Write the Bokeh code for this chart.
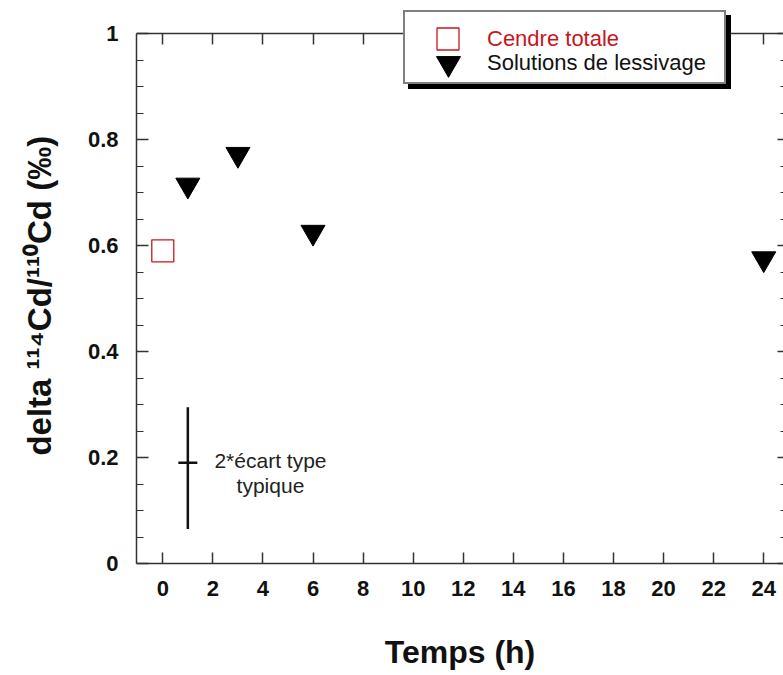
from bokeh.plotting import figure
from bokeh.models import (Range1d, LinearAxis, FixedTicker, CustomJSTickFormatter,
                          Legend, LegendItem)
from bokeh.core.properties import value
from bokeh.embed import file_html
from bokeh.resources import INLINE

# ---------------- data ----------------
ash_time = [0]
ash_delta = [0.59]

leach_time = [1, 3, 6, 24]
leach_delta = [0.714, 0.772, 0.625, 0.575]

err_x = [1]
err_y = [0.19]
err_lo = [0.065]
err_hi = [0.295]

err_text = ["2*écart type", "typique"]
err_text_x = [4.3, 4.3]
err_text_y = [0.194, 0.147]

x_ticks = [0, 2, 4, 6, 8, 10, 12, 14, 16, 18, 20, 22, 24]
y_ticks = [0.0, 0.2, 0.4, 0.6, 0.8, 1.0]
y_tick_labels = ["0", "0.2", "0.4", "0.6", "0.8", "1"]
y_minor_ticks = [0.05, 0.1, 0.15, 0.25, 0.3, 0.35, 0.45, 0.5, 0.55,
                 0.65, 0.7, 0.75, 0.85, 0.9, 0.95]

legend_labels = ["Cendre totale", "Solutions de lessivage"]
x_label = "Temps (h)"
y_label = "delta \u00b9\u00b9\u2074Cd/\u00b9\u00b9\u2070Cd (\u2030)\u00a0\u00a0\u00a0"

FONT = "Liberation Sans"
AXIS_COLOR = "#333333"
RED = "#c8161d"

Y_MIN, Y_MAX = y_ticks[0], y_ticks[-1]
X_MIN, X_MAX = -1.05, 24.79

# ---------------- figure ----------------
# frame spans the full height above the x axis so the legend box (which
# straddles the top axis line) is not clipped; the top axis is pinned at y = 1.
p = figure(width=783, height=675,
           x_range=Range1d(X_MIN, X_MAX), y_range=Range1d(0, 1.0623),
           output_backend="svg", toolbar_location=None,
           x_axis_location=None, y_axis_location=None,
           min_border_left=136, min_border_right=0,
           min_border_top=0, min_border_bottom=112,
           background_fill_color="white", border_fill_color="white",
           outline_line_color=None)
p.grid.visible = False


def style(ax):
    ax.axis_line_color = AXIS_COLOR
    ax.axis_line_width = 1.5
    ax.major_tick_line_color = AXIS_COLOR
    ax.major_tick_line_width = 1.5
    ax.minor_tick_line_color = AXIS_COLOR
    ax.minor_tick_line_width = 1.2
    ax.major_tick_out = 0
    ax.minor_tick_out = 0
    ax.major_label_text_font = FONT
    ax.major_label_text_font_style = "bold"
    ax.major_label_text_font_size = "22px"
    ax.major_label_text_color = "#111111"
    ax.axis_label_text_font = FONT
    ax.axis_label_text_font_style = "bold"
    ax.axis_label_text_color = "#111111"


xb = LinearAxis(ticker=FixedTicker(ticks=x_ticks, minor_ticks=[]), axis_label=x_label)
style(xb)
xb.axis_label_text_font_size = "32px"
xb.major_tick_in = 11
xb.major_label_standoff = 17
xb.axis_label_standoff = 35
p.add_layout(xb, "below")

# top axis: pinned at y = 1 inside the frame, ticks pointing down
xt = LinearAxis(ticker=FixedTicker(ticks=x_ticks, minor_ticks=[]),
                formatter=CustomJSTickFormatter(code="return ''"),
                fixed_location=Y_MAX)
style(xt)
xt.major_tick_in = 11
xt.major_label_standoff = 0
p.add_layout(xt, "above")

yl = LinearAxis(ticker=FixedTicker(ticks=y_ticks, minor_ticks=y_minor_ticks),
                axis_label=y_label, bounds=(Y_MIN, Y_MAX))
style(yl)
yl.axis_label_text_font_size = "33px"
yl.major_tick_in = 12
yl.minor_tick_in = 7
yl.major_label_standoff = 18
yl.axis_label_standoff = 27
yl.major_label_overrides = dict(zip(y_ticks, y_tick_labels))
p.add_layout(yl, "left")

yr = LinearAxis(ticker=FixedTicker(ticks=y_ticks, minor_ticks=y_minor_ticks),
                formatter=CustomJSTickFormatter(code="return ''"),
                bounds=(Y_MIN, Y_MAX))
style(yr)
yr.axis_line_color = None
yr.major_tick_in = 6
yr.minor_tick_in = 3
yr.major_label_standoff = 0
p.add_layout(yr, "right")

# ---------------- glyphs ----------------
ash = p.scatter(ash_time, ash_delta, marker="square", size=22,
                fill_color=None, line_color=RED, line_width=1.3)
leach = p.scatter(leach_time, leach_delta, marker="inverted_triangle", size=24,
                  fill_color="black", line_color="black")

p.segment(x0=err_x, y0=err_lo, x1=err_x, y1=err_hi, line_width=2.5, line_color="#111111")
p.scatter(err_x, err_y, marker="dash", size=19, line_width=2.5, line_color="#111111")
p.text(x=err_text_x, y=err_text_y, text=err_text, text_font=value(FONT),
       text_font_size="21px", text_align="center", text_baseline="middle",
       text_color="#222222")

# ---------------- legend ----------------
dummy = p.scatter(x=[], y=[], fill_alpha=0, line_alpha=0)

box_kw = dict(padding=0, margin=0, spacing=0, glyph_width=0, glyph_height=70,
              label_width=319, label_height=70, label_standoff=0,
              label_text_font_size="10px", border_line_width=2)
shadow = Legend(items=[LegendItem(label=value("\u00a0"), renderers=[dummy])],
                location=(272, 474), background_fill_color="black",
                background_fill_alpha=1, border_line_color="black", **box_kw)
box = Legend(items=[LegendItem(label=value("\u00a0"), renderers=[dummy])],
             location=(267, 479), background_fill_color="white",
             background_fill_alpha=1, border_line_color="black", **box_kw)

leg1 = Legend(items=[LegendItem(label=value(legend_labels[0]), renderers=[ash])],
              location=(284, 497), padding=0, margin=0, spacing=0,
              glyph_width=55, glyph_height=55, label_height=55, label_standoff=12,
              label_text_font=FONT, label_text_font_size="22px",
              label_text_color=RED, background_fill_alpha=0, border_line_color=None)
leg2 = Legend(items=[LegendItem(label=value(legend_labels[1]), renderers=[leach])],
              location=(282, 470), padding=0, margin=0, spacing=0,
              glyph_width=60, glyph_height=60, label_height=60, label_standoff=9,
              label_text_font=FONT, label_text_font_size="22px",
              label_text_color="#111111", background_fill_alpha=0, border_line_color=None)

for lg in (shadow, box, leg1, leg2):
    p.add_layout(lg, "center")

open("out.html", "w").write(file_html(p, INLINE))
